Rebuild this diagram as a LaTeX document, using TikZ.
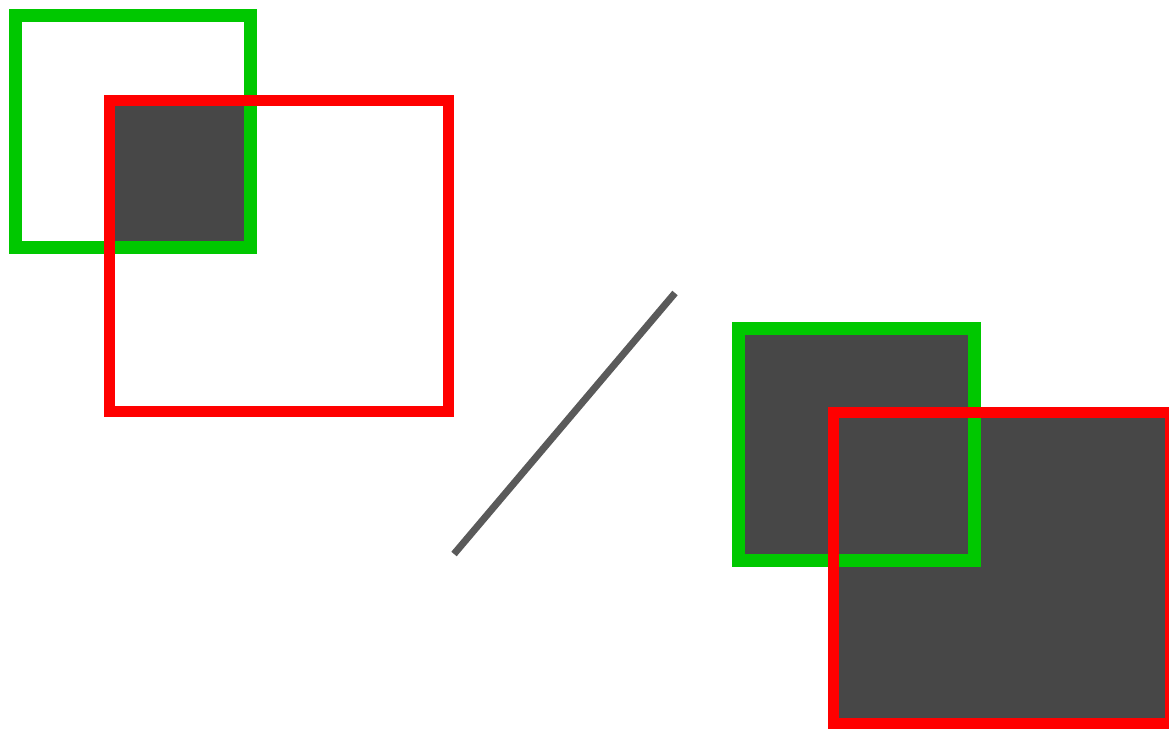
\documentclass[tikz,border=0pt]{standalone}
\usepackage{tikz}

\definecolor{boxgreen}{RGB}{0,200,0}
\definecolor{boxred}{RGB}{255,0,0}
\definecolor{darkgray}{RGB}{71,71,71}
\definecolor{slashgray}{RGB}{90,90,90}

\begin{document}
\begin{tikzpicture}[x=1pt, y=-1pt,
    greenbox/.style={draw=boxgreen, line width=13pt},
    redbox/.style={draw=boxred, line width=11pt},
    shade/.style={fill=darkgray},
    slash/.style={draw=slashgray, line width=7pt}]
  \useasboundingbox[clip] (0,0) rectangle (1169,728);
  % left pair: only the overlap is filled
  \coordinate (GA) at (15.5,15.5);   \coordinate (GB) at (250.5,247.5);
  \coordinate (RA) at (109,100);     \coordinate (RB) at (448,411);
  \begin{scope}
    \clip (GA) rectangle (GB);
    \fill[shade] (RA) rectangle (RB);
  \end{scope}
  \draw[greenbox] (GA) rectangle (GB);
  \draw[redbox] (RA) rectangle (RB);
  % separator
  \coordinate (SA) at (454,554);     \coordinate (SB) at (675,293);
  \draw[slash] (SA) -- (SB);
  % right pair: the union is filled
  \coordinate (GC) at (738.5,328);   \coordinate (GD) at (974,560);
  \coordinate (RC) at (833,412.5);   \coordinate (RD) at (1170,723);
  \fill[shade] (GC) rectangle (GD);
  \fill[shade] (RC) rectangle (RD);
  \draw[greenbox] (GC) rectangle (GD);
  \draw[redbox] (RC) rectangle (RD);
\end{tikzpicture}
\end{document}
